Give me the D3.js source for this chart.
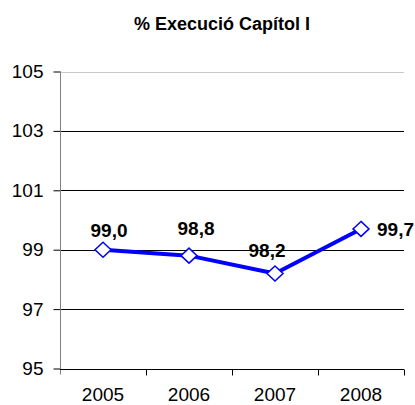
<!DOCTYPE html>
<html>
<head>
<meta charset="utf-8">
<script src="https://cdn.jsdelivr.net/npm/d3@7"></script>
<style>
html,body{margin:0;padding:0;background:#fff;}
svg{display:block;font-family:"Liberation Sans",Arial,sans-serif;}
</style>
</head>
<body>
<svg id="chart" width="415" height="405"></svg>
<script>
const title = "% Execució Capítol I";
const categories = ["2005", "2006", "2007", "2008"];
const values = [99.0, 98.8, 98.2, 99.7];
const valueLabels = ["99,0", "98,8", "98,2", "99,7"];
const yTicks = [95, 97, 99, 101, 103, 105];

// label placement relative to marker (dx, dy, anchor)
const labelPlacement = [
  {dx: 6, dy: -13, anchor: "middle"},
  {dx: 7, dy: -21, anchor: "middle"},
  {dx: -8, dy: -16, anchor: "middle"},
  {dx: 16, dy: 7, anchor: "start"}
];

(function () {
const svg = d3.select("#chart");
const pLeft = 60, pRight = 404, pTop = 71.5, pBottom = 368.5;

const x = d3.scaleBand().domain(categories).range([pLeft, pRight]).padding(0);
const y = d3.scaleLinear().domain([95, 105]).range([pBottom, pTop]);

// title
svg.append("text")
  .attr("x", 222).attr("y", 30)
  .attr("text-anchor", "middle")
  .attr("font-weight", "bold")
  .attr("font-size", "18px")
  .attr("fill", "#000")
  .text(title);

// gridlines
svg.append("g").selectAll("line")
  .data(yTicks.filter(d => d !== 95))
  .join("line")
  .attr("x1", pLeft).attr("x2", pRight)
  .attr("y1", d => Math.round(y(d)) + 0.5)
  .attr("y2", d => Math.round(y(d)) + 0.5)
  .attr("stroke", d => d === 105 ? "#c8c8c8" : "#000")
  .attr("stroke-width", 1);

// y axis
const yAxis = d3.axisLeft(y).tickValues(yTicks).tickSize(7).tickPadding(10).tickFormat(d3.format("d"));
const gy = svg.append("g").attr("transform", `translate(${pLeft + 0.5},0)`).call(yAxis);
gy.select(".domain").remove();
gy.selectAll(".tick line").attr("stroke", "#000");
gy.selectAll(".tick text")
  .attr("font-size", "19px").attr("fill", "#000")
  .attr("font-family", "Liberation Sans, Arial, sans-serif");
gy.append("line")
  .attr("x1", 0).attr("x2", 0)
  .attr("y1", pTop).attr("y2", pBottom + 6)
  .attr("stroke", "#808080");

// x axis
const xAxis = d3.axisBottom(x).tickSize(0).tickPadding(18);
const gx = svg.append("g").attr("transform", `translate(0,${Math.round(pBottom) + 0.5})`).call(xAxis);
gx.select(".domain").remove();
gx.selectAll(".tick text")
  .attr("font-size", "19px").attr("fill", "#000")
  .attr("font-family", "Liberation Sans, Arial, sans-serif");
gx.append("line")
  .attr("x1", pLeft).attr("x2", pRight)
  .attr("y1", 0).attr("y2", 0)
  .attr("stroke", "#000");
gx.selectAll(".bticks")
  .data(categories)
  .join("line")
  .attr("x1", (d, i) => Math.round(pLeft + x.bandwidth() * (i + 1)) + 0.5)
  .attr("x2", (d, i) => Math.round(pLeft + x.bandwidth() * (i + 1)) + 0.5)
  .attr("y1", 0).attr("y2", 6)
  .attr("stroke", "#000");

// line
const pts = categories.map((c, i) => ({c, v: values[i], label: valueLabels[i], p: labelPlacement[i]}));
const line = d3.line().x(d => x(d.c) + x.bandwidth() / 2).y(d => y(d.v));
svg.append("path")
  .datum(pts)
  .attr("d", line)
  .attr("fill", "none")
  .attr("stroke", "#0000ff")
  .attr("stroke-width", 4)
  .attr("stroke-linejoin", "round");

// markers
svg.append("g").selectAll("path")
  .data(pts)
  .join("path")
  .attr("transform", d => `translate(${x(d.c) + x.bandwidth() / 2},${y(d.v)})`)
  .attr("d", "M0,-7.5L8,0L0,7.5L-8,0Z")
  .attr("fill", "#fff")
  .attr("stroke", "#0000ff")
  .attr("stroke-width", 1.5);

// labels
svg.append("g").selectAll("text")
  .data(pts)
  .join("text")
  .attr("x", d => x(d.c) + x.bandwidth() / 2 + d.p.dx)
  .attr("y", d => y(d.v) + d.p.dy)
  .attr("text-anchor", d => d.p.anchor)
  .attr("font-weight", "bold")
  .attr("font-size", "19px")
  .attr("fill", "#000")
  .text(d => d.label);
})();
</script>
</body>
</html>
